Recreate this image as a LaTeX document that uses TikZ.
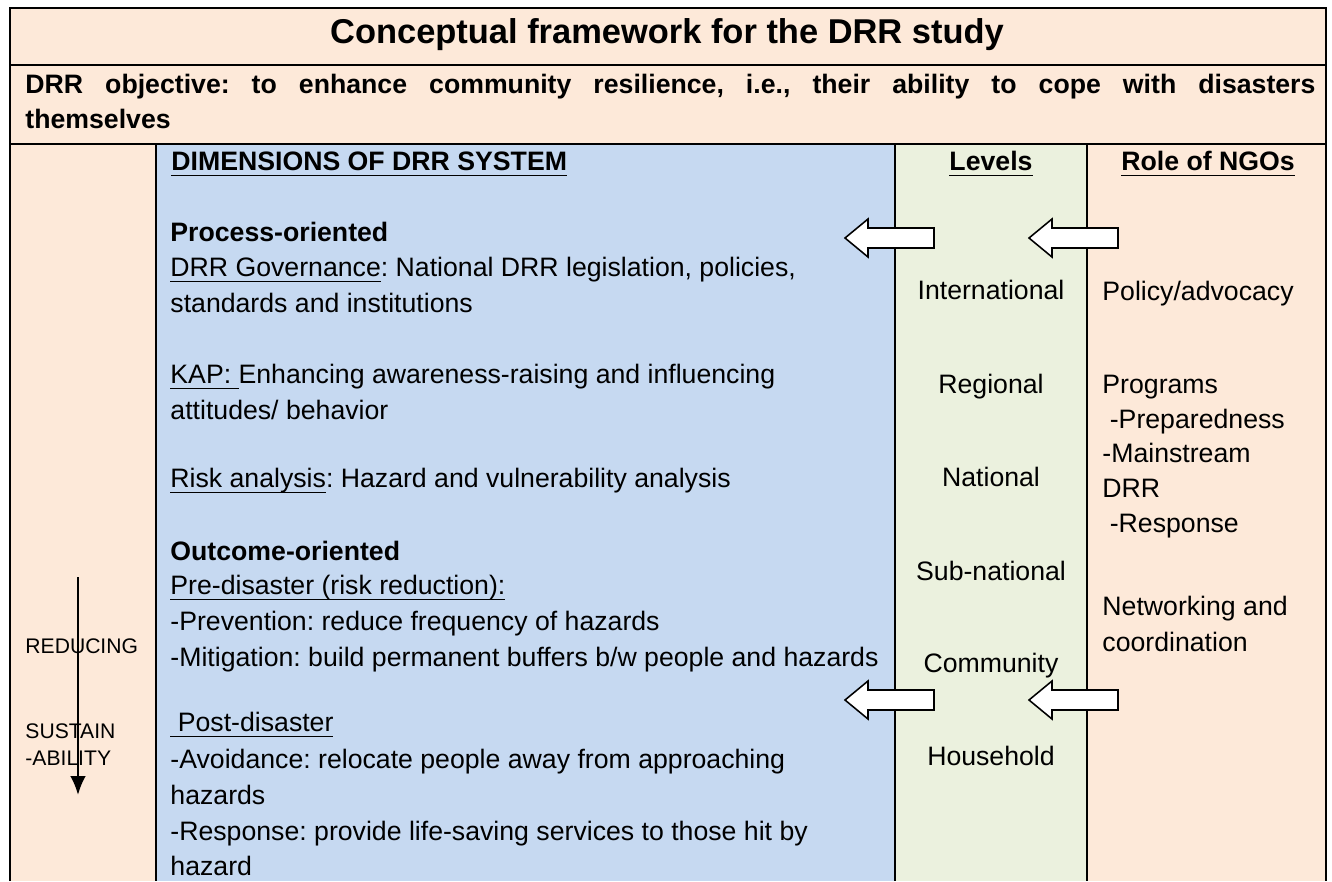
\documentclass[tikz,border=0pt]{standalone}
\usepackage{fontspec}
\setmainfont{Liberation Sans}
\usetikzlibrary{arrows.meta}
\definecolor{rowpink}{RGB}{253,233,217}
\definecolor{dimblue}{RGB}{198,217,241}
\definecolor{lvlgreen}{RGB}{235,241,222}
\frenchspacing
\newsavebox{\wulbox}
\newcommand{\wul}[1]{\sbox{\wulbox}{#1}\rlap{\usebox{\wulbox}}\rule[-2.9pt]{\wd\wulbox}{0.8pt}}
\tikzset{
  txt/.style={anchor=base west, inner sep=0pt, font=\fontsize{12}{14}\selectfont},
  boldtxt/.style={anchor=base west, inner sep=0pt, font=\fontsize{12}{14}\selectfont\bfseries},
  lvl/.style={anchor=base, inner sep=0pt, font=\fontsize{12}{14}\selectfont},
  colhead/.style={anchor=base, inner sep=0pt, font=\fontsize{12}{14}\selectfont\bfseries},
  side/.style={anchor=base west, inner sep=0pt, font=\fontsize{9.5}{11}\selectfont},
  gridline/.style={line width=0.9pt},
  blockarrow/.style={draw=black, fill=white, line width=0.7pt, line join=miter}
}

\begin{document}
\begin{tikzpicture}[x=0.45pt,y=-0.45pt]
\useasboundingbox (0,0) rectangle (1332,881);
%Shape: cell fills
\fill[rowpink] (10,8) rectangle (1326,881);
\fill[dimblue] (156,144) rectangle (895,881);
\fill[lvlgreen] (895,144) rectangle (1087,881);
%Straight Lines: frame and rows
\draw[gridline] (10,881) -- (10,8) -- (1326,8) -- (1326,881);
\draw[gridline] (10,65) -- (1326,65);
\draw[gridline] (10,144) -- (1326,144);
%Straight Lines: columns
\draw[gridline] (156,144) -- (156,881);
\draw[gridline] (895,144) -- (895,881);
\draw[gridline] (1087,144) -- (1087,881);

% Text Node: title rows
\node[anchor=base, inner sep=0pt, font=\fontsize{15.5}{19}\selectfont\bfseries] (title) at (667,43) {Conceptual framework for the DRR study};
\node[boldtxt] (obj1) at (25,93) {\makebox[580.5pt][s]{DRR objective: to enhance community resilience, i.e., their ability to cope with disasters}};
\node[boldtxt] (obj2) at (25,128) {themselves};

% Text Node: column heads
\node[boldtxt] (dimhead) at (171,170) {\wul{DIMENSIONS OF DRR SYSTEM}};
\node[colhead] (lvlhead) at (991,170) {\wul{Levels}};
\node[colhead] (ngohead) at (1208,170) {\wul{Role of NGOs}};

% Text Node: dimensions
\node[boldtxt] (proc) at (170,241) {Process-oriented};
\node[txt] (gov1) at (170,276) {\wul{DRR Governance}: National DRR legislation, policies,};
\node[txt] (gov2) at (170,312) {standards and institutions};
\node[txt] (kap1) at (170,383) {\wul{KAP:\ }Enhancing awareness-raising and influencing};
\node[txt] (kap2) at (170,419) {attitudes/ behavior};
\node[txt] (risk) at (170,487) {\wul{Risk analysis}: Hazard and vulnerability analysis};
\node[boldtxt] (outc) at (170,560) {Outcome-oriented};
\node[txt] (pre) at (170,594) {\wul{Pre-disaster (risk reduction):}};
\node[txt] (prev) at (170,630) {-Prevention: reduce frequency of hazards};
\node[txt] (mitig) at (170,666) {-Mitigation: build permanent buffers b/w people and hazards};
\node[txt] (post) at (170,731) {\wul{\ Post-disaster}};
\node[txt] (avoid1) at (170,768) {-Avoidance: relocate people away from approaching};
\node[txt] (avoid2) at (170,804) {hazards};
\node[txt] (resp1) at (170,840) {-Response: provide life-saving services to those hit by};
\node[txt] (resp2) at (170,875) {hazard};

% Text Node: levels
\node[lvl] (intl) at (991,299) {International};
\node[lvl] (regl) at (991,393) {Regional};
\node[lvl] (natl) at (991,486) {National};
\node[lvl] (subn) at (991,580) {Sub-national};
\node[lvl] (comm) at (991,672) {Community};
\node[lvl] (hous) at (991,765) {Household};

% Text Node: role of NGOs
\node[txt] (policy) at (1102,300) {Policy/advocacy};
\node[txt] (prog) at (1102,393) {Programs};
\node[txt] (prep) at (1102,428) {\ -Preparedness};
\node[txt] (main1) at (1102,462) {-Mainstream};
\node[txt] (main2) at (1102,497) {DRR};
\node[txt] (respn) at (1102,532) {\ -Response};
\node[txt] (netw1) at (1102,615) {Networking and};
\node[txt] (netw2) at (1102,651) {coordination};

% Text Node: sustainability
\node[side] (reduc) at (25,653) {REDUCING};
\node[side] (sust1) at (25,738) {SUSTAIN};
\node[side] (sust2) at (25,765) {-ABILITY};
\coordinate (sustop) at (78,577);
\coordinate (susbot) at (78,795);
\draw[-{Latex[length=8.5pt,width=7pt]}, line width=1pt] (sustop) -- (susbot);

%Shape: Left Arrows
\draw[blockarrow, shift={(845,238)}] (0,0) -- (23,-19) -- (23,-10) -- (89,-10) -- (89,10) -- (23,10) -- (23,19) -- cycle;
\draw[blockarrow, shift={(1029,238)}] (0,0) -- (23,-19) -- (23,-10) -- (89,-10) -- (89,10) -- (23,10) -- (23,19) -- cycle;
\draw[blockarrow, shift={(845,700)}] (0,0) -- (23,-19) -- (23,-10) -- (89,-10) -- (89,10) -- (23,10) -- (23,19) -- cycle;
\draw[blockarrow, shift={(1029,700)}] (0,0) -- (23,-19) -- (23,-10) -- (89,-10) -- (89,10) -- (23,10) -- (23,19) -- cycle;
\end{tikzpicture}
\end{document}
